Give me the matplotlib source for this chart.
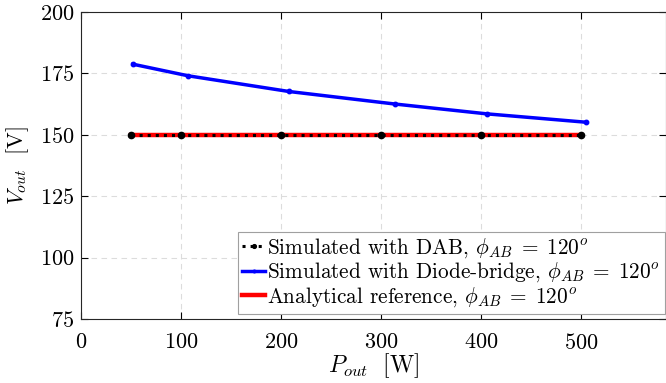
import matplotlib
matplotlib.use("Agg")
import matplotlib.pyplot as plt

plt.rcParams['font.family'] = 'serif'
plt.rcParams['font.serif'] = ['cmr10', 'DejaVu Serif']
plt.rcParams['mathtext.fontset'] = 'cm'
plt.rcParams['axes.formatter.use_mathtext'] = True

# data
p_dab = [50, 100, 200, 300, 400, 500]
v_dab = [150, 150, 150, 150, 150, 150]
p_diode = [52, 107, 208, 314, 406, 505]
v_diode = [178.7, 174.0, 167.6, 162.5, 158.5, 155.1]
p_ref = [50, 100, 200, 300, 400, 500]
v_ref = [150, 150, 150, 150, 150, 150]

x_ticks = [0, 100, 200, 300, 400, 500]
y_ticks = [75, 100, 125, 150, 175, 200]

fig = plt.figure(figsize=(6.66, 3.83), dpi=100)
ax = fig.add_axes([0.1216, 0.167, 0.878, 0.802])

l3, = ax.plot(p_ref, v_ref, color='red', linewidth=3.2, zorder=2)
l2, = ax.plot(p_diode, v_diode, color='blue', linewidth=2.5, marker='o',
              markersize=3.2, zorder=3)
l1, = ax.plot(p_dab, v_dab, color='black', linestyle=':', linewidth=2.2,
              marker='o', markersize=4.5, zorder=4)

ax.set_xlim(0, 585)
ax.set_ylim(75, 200)
ax.set_xticks(x_ticks)
ax.set_yticks(y_ticks)
ax.tick_params(direction='in', top=True, right=True, labelsize=16,
               length=5, width=0.8, pad=5)
ax.tick_params(axis='x', pad=10)
ax.grid(True, linestyle=(0, (5, 4)), color='#dcdcdc', linewidth=0.8)
for s in ax.spines.values():
    s.set_linewidth(0.8)
    s.set_color('#262626')

ax.set_xlabel(r'$P_{out}\ $ [W]', fontsize=17, labelpad=-1)
ax.set_ylabel(r'$V_{out}\ $ [V]', fontsize=16, labelpad=6)

leg = ax.legend([l1, l2, l3],
                [r'Simulated with DAB, $\phi_{AB}\;=\;120^o$',
                 r'Simulated with Diode-bridge, $\phi_{AB}\;=\;120^o$',
                 r'Analytical reference, $\phi_{AB}\;=\;120^o$'],
                loc='lower right', bbox_to_anchor=(0.998, 0.018),
                fontsize=15.3, handlelength=1.1, handletextpad=0.1,
                borderpad=0.2, labelspacing=0.05, borderaxespad=0,
                markerscale=0.6,
                fancybox=False, framealpha=1, edgecolor='#a0a0a0')
leg.get_frame().set_linewidth(0.8)

fig.savefig('out.png', dpi=100)
